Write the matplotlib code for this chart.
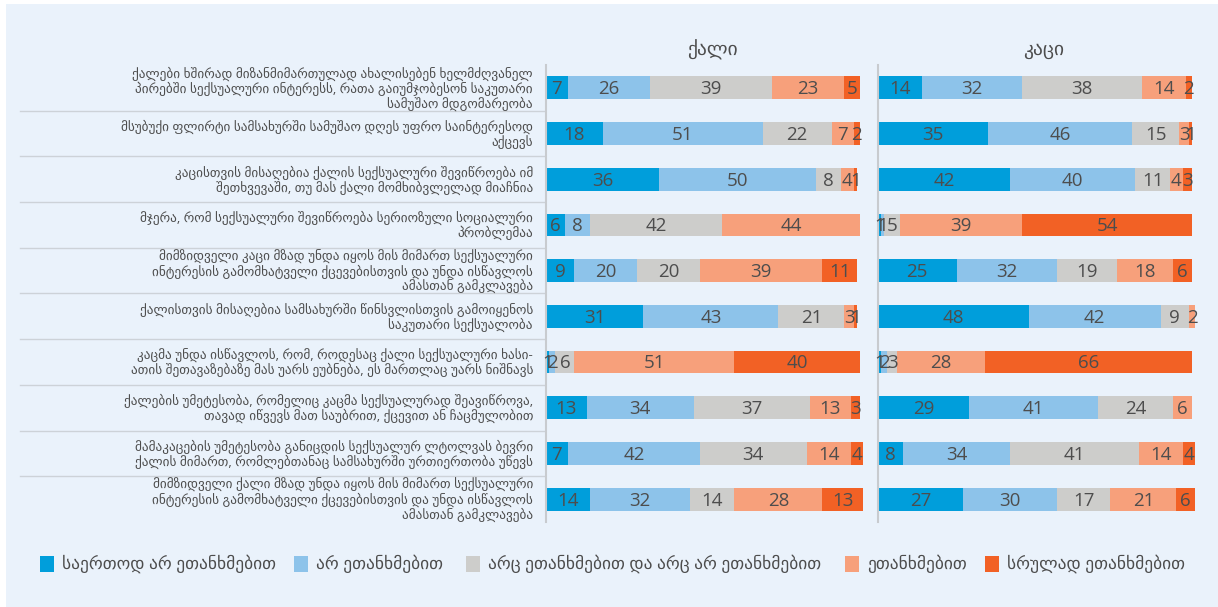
import numpy as np
import matplotlib
matplotlib.use("Agg")
from matplotlib import pyplot as plt
from matplotlib.patches import Rectangle

plt.rcParams["font.family"] = ["Open Sans", "DejaVu Sans"]

statements = [
    "ქალები ხშირად მიზანმიმართულად ახალისებენ ხელმძღვანელ\nპირებში სექსუალური ინტერესს, რათა გაიუმჯობესონ საკუთარი\nსამუშაო მდგომარეობა",
    "მსუბუქი ფლირტი სამსახურში სამუშაო დღეს უფრო საინტერესოდ\nაქცევს",
    "კაცისთვის მისაღებია ქალის სექსუალური შევიწროება იმ\nშეთხვევაში, თუ მას ქალი მომხიბვლელად მიაჩნია",
    "მჯერა, რომ სექსუალური შევიწროება სერიოზული სოციალური\nპრობლემაა",
    "მიმზიდველი კაცი მზად უნდა იყოს მის მიმართ სექსუალური\nინტერესის გამომხატველი ქცევებისთვის და უნდა ისწავლოს\nამასთან გამკლავება",
    "ქალისთვის მისაღებია სამსახურში წინსვლისთვის გამოიყენოს\nსაკუთარი სექსუალობა",
    "კაცმა უნდა ისწავლოს, რომ, როდესაც ქალი სექსუალური ხასი-\nათის შეთავაზებაზე მას უარს ეუბნება, ეს მართლაც უარს ნიშნავს",
    "ქალების უმეტესობა, რომელიც კაცმა სექსუალურად შეავიწროვა,\nთავად იწვევს მათ საუბრით, ქცევით ან ჩაცმულობით",
    "მამაკაცების უმეტესობა განიცდის სექსუალურ ლტოლვას ბევრი\nქალის მიმართ, რომლებთანაც სამსახურში ურთიერთობა უწევს",
    "მიმზიდველი ქალი მზად უნდა იყოს მის მიმართ სექსუალური\nინტერესის გამომხატველი ქცევებისთვის და უნდა ისწავლოს\nამასთან გამკლავება",
]

categories = [
    "საერთოდ არ ეთანხმებით",
    "არ ეთანხმებით",
    "არც ეთანხმებით და არც არ ეთანხმებით",
    "ეთანხმებით",
    "სრულად ეთანხმებით",
]

panel_titles = ["ქალი", "კაცი"]

# columns: strongly disagree, disagree, neutral, agree, strongly agree
women = np.array([
    [7, 26, 39, 23, 5],
    [18, 51, 22, 7, 2],
    [36, 50, 8, 4, 1],
    [6, 8, 42, 44, 0],
    [9, 20, 20, 39, 11],
    [31, 43, 21, 3, 1],
    [1, 2, 6, 51, 40],
    [13, 34, 37, 13, 3],
    [7, 42, 34, 14, 4],
    [14, 32, 14, 28, 13],
])

men = np.array([
    [14, 32, 38, 14, 2],
    [35, 46, 15, 3, 1],
    [42, 40, 11, 4, 3],
    [1, 1, 5, 39, 54],
    [25, 32, 19, 18, 6],
    [48, 42, 9, 2, 0],
    [1, 2, 3, 28, 66],
    [29, 41, 24, 6, 0],
    [8, 34, 41, 14, 4],
    [27, 30, 17, 21, 6],
])

colors = ["#009EDB", "#8DC3EA", "#CDCDCB", "#F7A07B", "#F26125"]
bg = "#EAF2FB"
text_col = "#4D4D4D"

W, H = 1218, 607
fig = plt.figure(figsize=(W / 100, H / 100), dpi=100)
fig.patch.set_facecolor("white")
fig.patches.append(Rectangle((6 / W, 0), 1 - 6 / W, 1 - 4 / H, transform=fig.transFigure,
                             facecolor=bg, edgecolor="none", zorder=-10))


def px_axes(x0, x1, y0, y1):
    # pixel box (top-left origin) -> figure axes
    return fig.add_axes([x0 / W, 1 - y1 / H, (x1 - x0) / W, (y1 - y0) / H])


n = len(statements)
ytop, ybot = 65, 522
scale = 3.14  # px per percent

# label column
axl = px_axes(6, 546, ytop, ybot)
axl.set_xlim(6, 546)
axl.set_ylim(n - 0.5, -0.5)
axl.axis("off")
for i, s in enumerate(statements):
    axl.text(533, i + 0.02, s, ha="right", va="center", fontsize=9.5, color=text_col,
             linespacing=1.05)
for i in range(n - 1):
    axl.plot([20, 546], [i + 0.5, i + 0.5], color="#CDD2D8", lw=1)

panels = [(546, 878, women), (878, 1210, men)]
for (x0, x1, data), title in zip(panels, panel_titles):
    ax = px_axes(x0, x1, ytop, ybot)
    ax.set_facecolor("none")
    ax.set_xlim(0, (x1 - x0) / scale)
    ax.set_ylim(n - 0.5, -0.5)
    for s in ["top", "right", "bottom"]:
        ax.spines[s].set_visible(False)
    ax.spines["left"].set_color("#C8CBCF")
    ax.spines["left"].set_linewidth(1.5)
    ax.set_xticks([])
    ax.set_yticks([])
    y = np.arange(n)
    left = np.zeros(n)
    for j in range(len(categories)):
        vals = data[:, j]
        ax.barh(y, vals, left=left, height=0.5, color=colors[j], edgecolor="none")
        for i in range(n):
            if vals[i] > 0:
                ax.text(left[i] + vals[i] / 2, i + 0.03, str(vals[i]), ha="center",
                        va="center", fontsize=13.5, fontweight="medium", color=text_col)
        left = left + vals
    ax.text(0.5, 1.0 + 15 / (ybot - ytop), title, transform=ax.transAxes,
            ha="center", va="center", fontsize=14, color=text_col)

# legend
leg_x = [40, 294, 466, 845, 985]
leg_y = 564
for xpos, c, lab in zip(leg_x, colors, categories):
    fig.patches.append(Rectangle((xpos / W, 1 - (leg_y + 8) / H), 14 / W, 16 / H,
                                 transform=fig.transFigure, facecolor=c, edgecolor="none"))
    fig.text((xpos + 22) / W, 1 - leg_y / H, lab, ha="left", va="center",
             fontsize=12.5, color=text_col)

fig.savefig("out.png", dpi=100, facecolor=fig.get_facecolor())
